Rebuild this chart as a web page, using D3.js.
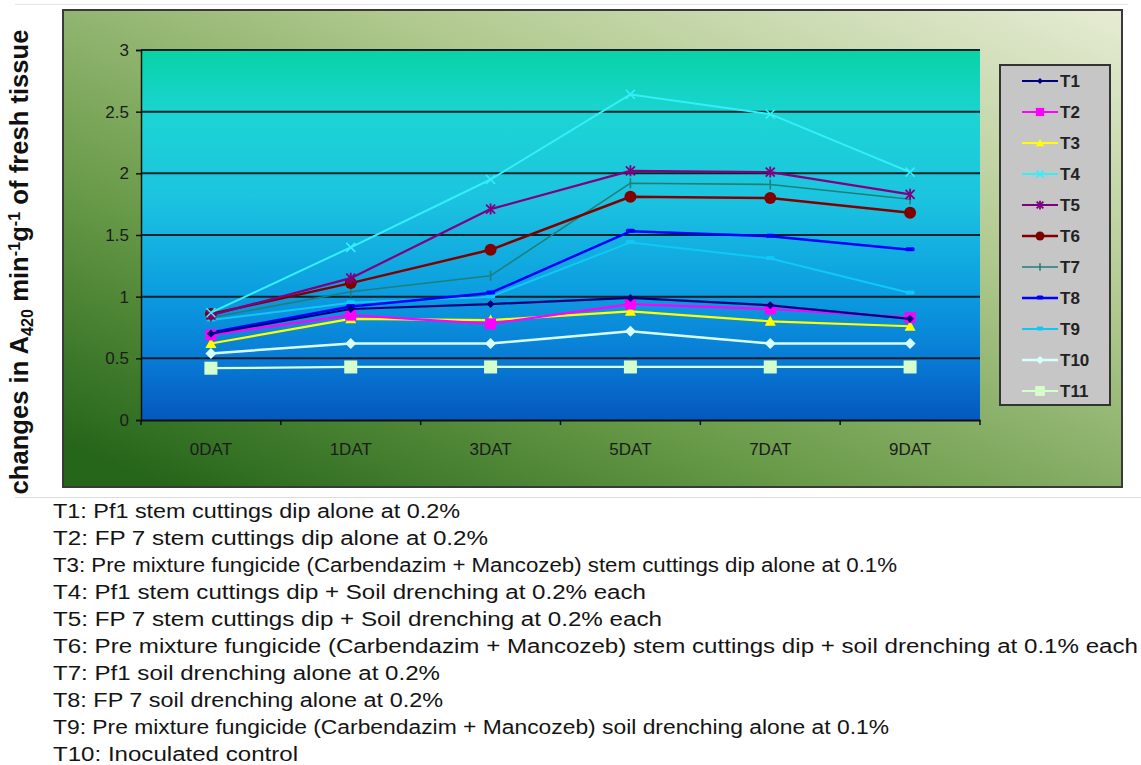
<!DOCTYPE html>
<html>
<head>
<meta charset="utf-8">
<script src="https://cdn.jsdelivr.net/npm/d3@7"></script>
<style>
  html, body { margin: 0; padding: 0; background: #ffffff; }
  svg { display: block; }
</style>
</head>
<body>
<svg id="chart" width="1141" height="765"></svg>
<script>
// ---------------- DATA ----------------
const categories = ["0DAT", "1DAT", "3DAT", "5DAT", "7DAT", "9DAT"];
const seriesNames = ["T1", "T2", "T3", "T4", "T5", "T6", "T7", "T8", "T9", "T10", "T11"];
const T1  = [0.70, 0.90, 0.94, 0.99, 0.93, 0.82];
const T2  = [0.69, 0.85, 0.78, 0.94, 0.90, 0.83];
const T3  = [0.62, 0.82, 0.81, 0.88, 0.80, 0.76];
const T4  = [0.87, 1.40, 1.95, 2.64, 2.48, 2.01];
const T5  = [0.85, 1.15, 1.71, 2.02, 2.01, 1.83];
const T6  = [0.86, 1.11, 1.38, 1.81, 1.80, 1.68];
const T7  = [0.83, 1.04, 1.17, 1.92, 1.91, 1.79];
const T8  = [0.71, 0.92, 1.03, 1.53, 1.49, 1.38];
const T9  = [0.81, 0.95, 1.00, 1.44, 1.31, 1.03];
const T10 = [0.54, 0.62, 0.62, 0.72, 0.62, 0.62];
const T11 = [0.42, 0.43, 0.43, 0.43, 0.43, 0.43];
const seriesValues = [T1, T2, T3, T4, T5, T6, T7, T8, T9, T10, T11];
const yTicks = [0, 0.5, 1, 1.5, 2, 2.5, 3];
const footnotes = [
  "T1: Pf1 stem cuttings dip alone at 0.2%",
  "T2: FP 7 stem cuttings dip alone at 0.2%",
  "T3: Pre mixture fungicide (Carbendazim + Mancozeb) stem cuttings dip alone at 0.1%",
  "T4: Pf1 stem cuttings dip + Soil drenching at 0.2% each",
  "T5: FP 7 stem cuttings dip + Soil drenching at 0.2% each",
  "T6: Pre mixture fungicide (Carbendazim + Mancozeb) stem cuttings dip + soil drenching at 0.1% each",
  "T7: Pf1 soil drenching alone at 0.2%",
  "T8: FP 7 soil drenching alone at 0.2%",
  "T9: Pre mixture fungicide (Carbendazim + Mancozeb) soil drenching alone at 0.1%",
  "T10: Inoculated control"
];

// ---------------- STYLE ----------------
const colors = ["#000080", "#FF00FF", "#FFFF00", "#33F0F8", "#800080", "#800000",
                "#1E8078", "#0000FF", "#10C8F8", "#D8FFFF", "#D4FFCC"];
const markers = ["diamond", "square", "triangle", "x", "star", "circle",
                 "plus", "dash", "dash", "diamond", "square"];
const widths = [2.2, 2.2, 2.2, 2, 2.2, 2.5, 1.6, 2.5, 2, 2.5, 2.2];
const markerSize = [8, 11, 11, 9, 9, 12, 10, 9, 9, 11, 13];
// rendered widths of the footnote lines (px), measured on the reference
const footWidths = [407, 435, 844, 593, 609, 1085, 387, 390, 836, 245];

const svg = d3.select("#chart");
const defs = svg.append("defs");

const fr = { x: 63, y: 10, w: 1059, h: 477 };
const pl = { l: 141, r: 980, t: 50, b: 420 };

// frame gradient
const fg = defs.append("linearGradient").attr("id", "frameGrad")
  .attr("x1", "1").attr("y1", "0").attr("x2", "0.1").attr("y2", "1");
fg.append("stop").attr("offset", "0").attr("stop-color", "#E6ECD4");
fg.append("stop").attr("offset", "0.35").attr("stop-color", "#B0C98E");
fg.append("stop").attr("offset", "0.7").attr("stop-color", "#689A48");
fg.append("stop").attr("offset", "1").attr("stop-color", "#26661A");

// plot gradient
const pg = defs.append("linearGradient").attr("id", "plotGrad")
  .attr("x1", "0").attr("y1", "0").attr("x2", "0").attr("y2", "1");
[["0", "#08D3A6"], ["0.18", "#1CD4D4"], ["0.4", "#1CC4E0"], ["0.65", "#0C9EE0"], ["0.85", "#0878D4"], ["1", "#0558BE"]]
  .forEach(s => pg.append("stop").attr("offset", s[0]).attr("stop-color", s[1]));

// page separator lines
svg.append("line").attr("x1", 15).attr("x2", 1141).attr("y1", 497.5).attr("y2", 497.5)
  .attr("stroke", "#dcdcdc").attr("stroke-width", 1);
svg.append("line").attr("x1", 15).attr("x2", 1128).attr("y1", 4.5).attr("y2", 4.5)
  .attr("stroke", "#e6e6e6").attr("stroke-width", 1);

// frame
svg.append("rect").attr("x", fr.x).attr("y", fr.y).attr("width", fr.w).attr("height", fr.h)
  .attr("fill", "url(#frameGrad)").attr("stroke", "#3a3a3a").attr("stroke-width", 2);

// scales
const x = d3.scaleBand().domain(categories).range([pl.l, pl.r]).padding(0);
const y = d3.scaleLinear().domain([0, 3]).range([pl.b, pl.t]);
const cx = d => x(d) + x.bandwidth() / 2;

// plot area
svg.append("rect").attr("x", pl.l).attr("y", pl.t).attr("width", pl.r - pl.l).attr("height", pl.b - pl.t)
  .attr("fill", "url(#plotGrad)");

// gridlines
svg.append("g").selectAll("line").data(yTicks.filter(v => v > 0)).join("line")
  .attr("x1", pl.l).attr("x2", pl.r).attr("y1", d => y(d)).attr("y2", d => y(d))
  .attr("stroke", "#06202c").attr("stroke-width", 2);

const narrow = "'Liberation Sans Narrow', 'Liberation Sans', Arial, sans-serif";

// Y axis
const yAxis = svg.append("g").attr("transform", `translate(${pl.l},0)`)
  .call(d3.axisLeft(y).tickValues(yTicks).tickSize(5).tickPadding(7).tickFormat(d3.format("")));
yAxis.select(".domain").attr("stroke", "#111").attr("stroke-width", 1.5);
yAxis.selectAll(".tick line").attr("stroke", "#111").attr("stroke-width", 1.5);
yAxis.selectAll(".tick text").attr("fill", "#1c1c1c")
  .style("font-family", narrow).style("font-size", "17px");

// X axis
const xAxis = svg.append("g").attr("transform", `translate(0,${pl.b})`)
  .call(d3.axisBottom(x).tickSize(0).tickPadding(23));
xAxis.select(".domain").attr("stroke", "#111").attr("stroke-width", 2);
xAxis.selectAll(".tick text").attr("fill", "#1c1c1c")
  .style("font-family", narrow).style("font-size", "17px");
// band boundary tick marks
svg.append("g").selectAll("line").data(categories.map(c => x(c)).concat([pl.r])).join("line")
  .attr("x1", d => d).attr("x2", d => d).attr("y1", pl.b).attr("y2", pl.b + 5)
  .attr("stroke", "#111").attr("stroke-width", 1.5);

// marker drawing
function drawMarker(g, type, color, s) {
  const h = s / 2;
  if (type === "diamond") {
    g.append("path").attr("d", `M0,${-h} L${h},0 L0,${h} L${-h},0 Z`).attr("fill", color);
  } else if (type === "square") {
    g.append("rect").attr("x", -h).attr("y", -h).attr("width", s).attr("height", s).attr("fill", color);
  } else if (type === "triangle") {
    g.append("path").attr("d", `M0,${-h} L${h},${h * 0.8} L${-h},${h * 0.8} Z`).attr("fill", color);
  } else if (type === "circle") {
    g.append("circle").attr("r", h).attr("fill", color);
  } else if (type === "x") {
    g.append("path").attr("d", `M${-h},${-h} L${h},${h} M${-h},${h} L${h},${-h}`)
      .attr("stroke", color).attr("stroke-width", 1.6);
  } else if (type === "star") {
    g.append("path").attr("d", `M${-h},${-h} L${h},${h} M${-h},${h} L${h},${-h} M0,${-h - 1} L0,${h + 1}`)
      .attr("stroke", color).attr("stroke-width", 1.8);
  } else if (type === "plus") {
    g.append("path").attr("d", `M0,${-h} L0,${h}`).attr("stroke", color).attr("stroke-width", 1.6);
  } else if (type === "dash") {
    g.append("rect").attr("x", -h).attr("y", -2.5).attr("width", s).attr("height", 4).attr("rx", 1.5).attr("fill", color);
  }
}

// series
const line = d3.line().x((d, i) => cx(categories[i])).y(d => y(d));
const drawOrder = [10, 9, 8, 7, 6, 5, 4, 3, 2, 1, 0];
drawOrder.forEach(k => {
  const vals = seriesValues[k];
  const g = svg.append("g");
  g.append("path").attr("d", line(vals)).attr("fill", "none")
    .attr("stroke", colors[k]).attr("stroke-width", widths[k]).attr("stroke-linejoin", "round");
  vals.forEach((v, i) => {
    const mg = g.append("g").attr("transform", `translate(${cx(categories[i])},${y(v)})`);
    drawMarker(mg, markers[k], colors[k], markerSize[k]);
  });
});

// legend
const lg = svg.append("g");
lg.append("rect").attr("x", 1000).attr("y", 65).attr("width", 110).attr("height", 340)
  .attr("fill", "#C6C6C6").attr("stroke", "#333").attr("stroke-width", 2);
seriesNames.forEach((name, k) => {
  const yy = 81 + k * 31;
  lg.append("line").attr("x1", 1022).attr("x2", 1058).attr("y1", yy).attr("y2", yy)
    .attr("stroke", colors[k]).attr("stroke-width", widths[k]);
  const mg = lg.append("g").attr("transform", `translate(1040,${yy})`);
  drawMarker(mg, markers[k], colors[k], Math.max(6, markerSize[k] * 0.75));
  lg.append("text").attr("x", 1060).attr("y", yy + 6).text(name)
    .attr("fill", "#222")
    .style("font-family", narrow)
    .style("font-weight", "bold").style("font-size", "17px");
});

// Y axis title
const yt = svg.append("text")
  .attr("transform", "translate(28,262) rotate(-90)")
  .attr("text-anchor", "middle")
  .attr("fill", "#111")
  .style("font-family", "'Liberation Sans', Arial, sans-serif")
  .style("font-weight", "bold").style("font-size", "19px");
yt.append("tspan").text("changes in A");
yt.append("tspan").attr("class", "sm").text("420").attr("dy", 5);
yt.append("tspan").text(" min").attr("dy", -5);
yt.append("tspan").attr("class", "sm").text("-1").attr("dy", -8);
yt.append("tspan").text("g").attr("dy", 8);
yt.append("tspan").attr("class", "sm").text("-1").attr("dy", -8);
yt.append("tspan").text(" of fresh tissue").attr("dy", 8);
yt.selectAll(".sm").style("font-size", "12px");
// fit title to reference length (~465 px)
{
  const wt = yt.node().getComputedTextLength();
  const f = 465 / wt;
  yt.style("font-size", (19 * f).toFixed(2) + "px");
  yt.selectAll(".sm").style("font-size", (12 * f).toFixed(2) + "px");
}

// footnotes
const fn = svg.append("g");
footnotes.forEach((t, i) => {
  fn.append("text").attr("x", 53).attr("y", 518 + i * 27).text(t)
    .attr("fill", "#141414")
    .attr("textLength", footWidths[i])
    .attr("lengthAdjust", "spacingAndGlyphs")
    .style("font-family", "'Liberation Sans', Arial, sans-serif")
    .style("font-size", "20px");
});
</script>
</body>
</html>
